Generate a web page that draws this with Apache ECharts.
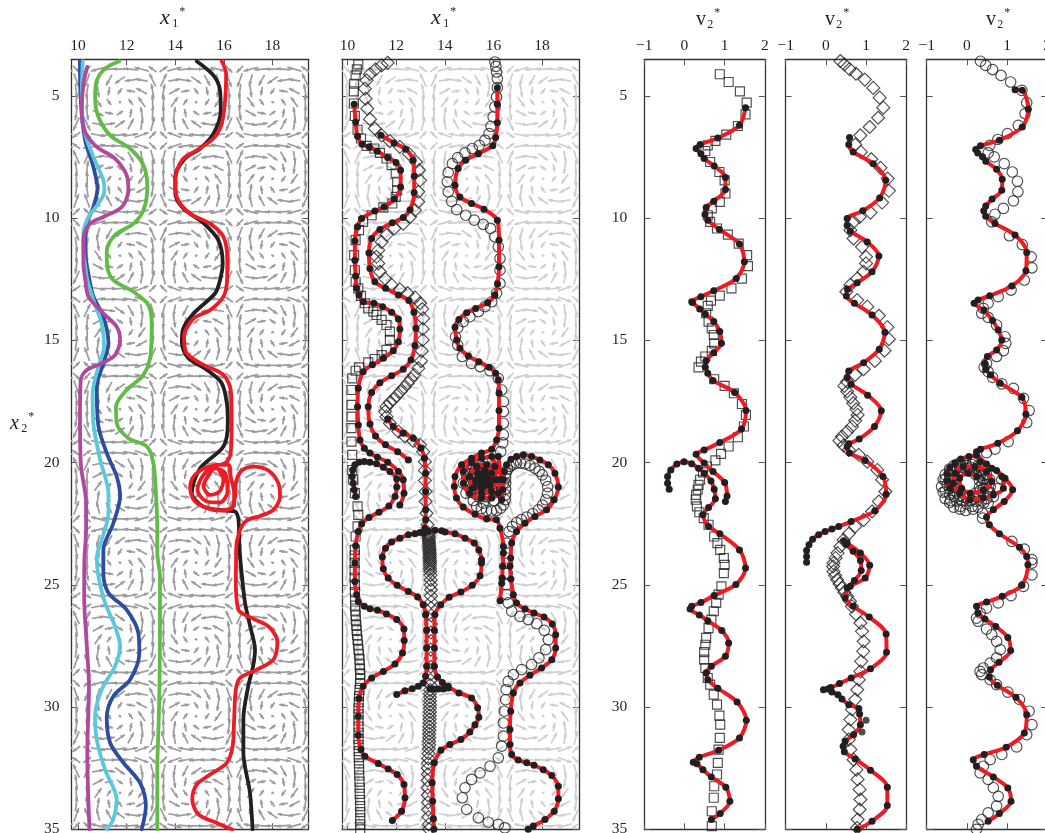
<!DOCTYPE html>
<html><head><meta charset="utf-8">
<style>html,body{margin:0;padding:0;background:#fff}#c{width:1045px;height:833px}</style>
<script src="https://cdn.jsdelivr.net/npm/echarts@6/dist/echarts.min.js"></script>
</head><body><div id="c"></div>
<script>
const yTicks=[5,10,15,20,25,30,35];
const x1Ticks=[10,12,14,16,18];
const v2Ticks=[-1,0,1,2];
// vector field: one flow cell (screen degrees, length in x-units)
const cellAngles=[
[225,195,185,180,175,165,145],
[250,255,241,215,188,170,115],
[262,278,260,235,170,152,100],
[270,305,305,330,125,125,92],
[278,332,350,35,80,98,88],
[295,350,8,35,62,80,75],
[325,350,0,5,10,20,45]];
const cellLengths=[
[.4,.6,.6,.6,.6,.6,.4],
[.6,.5,.5,.5,.5,.5,.6],
[.6,.5,.35,.3,.35,.5,.6],
[.6,.5,.3,.12,.3,.5,.6],
[.6,.5,.35,.3,.35,.5,.6],
[.6,.5,.5,.5,.5,.5,.6],
[.4,.6,.6,.6,.6,.6,.4]];
const cellEdgesX=[7.01,10.15,13.29,16.43,19.57];
const cellEdgesY=[3.68,6.82,9.96,13.1,16.24,19.38,22.52,25.66,28.8,31.94];
// panel 1
const p1Black=[[14.88,3.58],[15.57,4.16],[15.84,4.77],[15.87,5.59],[15.57,6.54],[15.02,7.15],[14.4,7.56],[14,8.31],[14,8.99],[14.33,9.6],[15.16,10.2],[15.77,10.9],[15.95,11.85],[15.84,12.53],[15.64,13.07],[14.75,13.9],[14.31,14.57],[14.27,15.12],[14.54,15.73],[15.29,16.2],[15.91,16.75],[16.12,17.57],[16.16,18.39],[15.98,19.34],[15.02,20.23],[14.68,21.25],[15.16,21.8],[16.12,21.96],[16.46,22],[16.6,22.34],[16.63,23.2],[16.67,23.9],[16.73,24.52],[16.87,25.74],[17.08,26.7],[17.28,27.65],[17.2,28.33],[17,29.15],[16.8,30.5],[16.8,31.87],[17.07,33.5],[17.18,35]];
const p1RedA=[[15.91,3.58],[16.09,4.09],[16.05,5.18],[15.91,6.13],[15.57,6.74],[14.88,7.22],[14.27,7.63],[14,8.45],[14.06,9.13],[14.6,9.81],[15.43,10.22],[15.98,10.76],[16.14,11.72],[16.13,12.53],[15.98,13.21],[15.43,13.76],[14.75,14.1],[14.36,14.85],[14.47,15.53],[15.16,16],[15.98,16.41],[16.28,17.03],[16.32,18.25],[16.28,19.61],[16.05,20.02],[15.29,20.19],[14.75,20.57],[14.61,21.05],[14.81,21.59],[15.43,21.9],[16.05,21.96],[16.42,21.73],[16.42,21.25],[16.28,20.57],[16.19,20.09],[15.71,20.09],[15.16,20.5],[14.91,21.11],[15.29,21.59],[15.84,21.63],[16.15,21.18],[16.05,20.43],[15.64,20.23],[15.29,20.64],[15.16,20.98],[15.43,21.32],[15.82,21.18],[15.98,20.7],[15.82,20.36]];
const p1RedB=[[15.98,21.93],[16.32,21.86],[16.46,21.39],[16.49,20.84],[16.74,20.32],[17.22,20.16],[17.83,20.32],[18.24,20.84],[18.31,21.39],[18.04,21.93],[17.49,22.18],[16.94,22.37],[16.64,22.82],[16.5,23.57],[16.5,23.97],[16.49,24.79],[16.6,26.02],[17.15,26.36],[17.83,26.7],[18.2,27.31],[18.04,28.06],[17.35,28.47],[16.67,28.81],[16.49,29.29],[16.42,30.51],[16.36,31.6],[16.12,32.28],[15.43,32.76],[14.88,33.17],[14.7,33.78],[14.95,34.39],[15.71,34.74],[16.35,35.01]];
const p1Green=[[11.7,3.58],[11.11,3.88],[10.77,4.36],[10.7,5.04],[10.84,5.86],[11.32,6.61],[12.14,7.15],[12.69,7.83],[12.85,8.72],[12.69,9.67],[12.28,10.22],[11.52,10.69],[11.18,11.31],[11.2,11.99],[11.45,12.53],[12.28,13.01],[12.89,13.55],[13.03,14.3],[12.99,15.53],[12.69,16.41],[12,17.03],[11.56,17.71],[11.59,18.39],[12.07,19],[12.83,19.34],[13.1,20.02],[13.21,21.39],[13.26,22.75],[13.26,23.7],[13.37,24.65],[13.37,26.42],[13.35,29.15],[13.31,30.78],[13.26,32.56],[13.26,35]];
const p1Purple=[[10.38,3.81],[10.22,4.5],[10.15,5.59],[10.29,6.47],[10.77,7.08],[11.52,7.56],[12,8.24],[12.07,8.86],[11.8,9.54],[11.04,9.95],[10.49,10.22],[10.22,10.83],[10.22,11.85],[10.3,12.53],[10.43,13.21],[11.04,13.89],[11.59,14.44],[11.73,14.98],[11.52,15.6],[10.97,15.94],[10.36,16.21],[10.11,16.62],[10.08,17.98],[10.11,20.02],[10.33,21.66],[10.33,22.75],[10.26,23.97],[10.25,25.47],[10.36,27.51],[10.45,29.15],[10.38,31.87],[10.47,35]];
const p1Blue=[[10.08,3.58],[10.11,5.18],[10.29,6.81],[10.63,7.9],[10.8,8.79],[10.63,9.54],[10.36,10.22],[10.29,11.31],[10.47,12.53],[10.63,13.21],[11.04,14.03],[11.25,15.12],[11.04,15.94],[10.77,16.89],[10.84,18.52],[11.18,19.61],[11.59,20.57],[11.73,21.39],[11.45,22.48],[11.04,23.57],[11.04,24.52],[11.25,25.33],[12,26.02],[12.48,26.97],[12.52,27.79],[12.14,28.88],[11.45,29.56],[11.18,30.44],[11.32,31.47],[11.87,32.28],[12.55,33.1],[12.79,34.05],[12.62,35]];
const p1Cyan=[[10.19,3.58],[10.15,5.18],[10.29,6.54],[10.63,7.49],[11.04,8.45],[11.08,8.92],[10.84,9.4],[10.43,9.95],[10.22,10.63],[10.22,11.31],[10.3,12],[10.38,12.53],[10.63,13.35],[10.97,14.3],[11.07,15.25],[10.84,16.07],[10.6,17.16],[10.63,18.39],[10.91,19.89],[11.25,21.25],[11.25,22.07],[10.97,23.16],[10.77,23.9],[10.84,24.65],[11.11,25.74],[11.52,26.7],[11.73,27.51],[11.52,28.33],[10.97,29.29],[10.7,30.38],[10.77,31.33],[11.11,32.56],[11.59,33.78],[11.45,34.6],[11.18,35]];
// panel 2, red lines with dots
const p2A=[[10.27,5.34],[10.33,6.06],[10.41,6.65],[10.6,6.98],[10.89,7.08],[11.22,7.26],[11.65,7.52],[11.99,7.72],[12.18,8.04],[12.18,8.72],[11.92,9.22],[11.5,9.54],[11.12,9.71],[10.58,10.01],[10.41,10.35],[10.3,10.93],[10.3,11.72],[10.33,12.37],[10.37,12.87],[10.47,13.14],[10.64,13.42],[11.08,13.48],[11.44,13.62],[11.81,13.85],[12.09,14.12],[12.15,14.53],[12.09,15.05],[11.88,15.42],[11.47,15.73],[11.02,16],[10.64,16.28],[10.44,16.96],[10.41,17.71],[10.44,18.46],[10.51,19.07],[10.69,19.41],[10.92,19.61],[11.23,19.78],[11.65,19.98],[12.09,20.36],[12.29,20.7],[12.32,21.25],[12.15,21.73]];
const p2A2=[[10.33,21.39],[10.27,21.11],[10.23,20.84],[10.19,20.57],[10.21,20.3],[10.3,20.09],[10.47,19.98],[10.69,19.95],[10.92,19.98],[11.19,20.05],[11.47,20.19],[11.74,20.36],[12.02,20.66],[12.02,21],[11.95,21.39],[11.7,21.77],[11.29,22.03],[10.88,22.24],[10.58,22.5],[10.44,22.82],[10.33,23.4],[10.3,24.11],[10.3,24.86],[10.37,25.4],[10.44,25.68],[10.69,25.88],[10.92,25.98],[11.23,26.04],[11.6,26.19],[12.02,26.42],[12.32,26.81],[12.33,27.28],[12.26,27.79],[11.95,28.24],[11.47,28.54],[10.99,28.81],[10.64,29.15],[10.47,29.65],[10.44,30.38],[10.44,31.15],[10.55,31.74],[10.71,32.01],[11.26,32.31],[11.67,32.53],[12.04,32.76],[12.32,33.17],[12.36,33.71],[12.22,34.26],[11.84,34.64]];
const p2B=[[11.37,6.61],[11.91,6.92],[12.39,7.18],[12.7,7.63],[12.74,8.28],[12.74,8.96],[12.57,9.65],[12.29,9.97],[11.84,10.19],[11.33,10.46],[10.99,10.83],[10.88,11.42],[10.92,12.06],[11.12,12.6],[11.56,12.87],[12.09,13.14],[12.52,13.37],[12.73,13.85],[12.81,14.5],[12.77,15.21],[12.61,15.8],[12.29,16.18],[11.81,16.45],[11.33,16.73],[10.99,17.13],[10.85,17.71],[10.92,18.42],[11.15,18.91],[11.56,19.27],[12.06,19.55],[12.5,19.89]];
const p2C=[[11.65,18.22],[11.88,18.52],[12.29,18.8],[12.7,19],[13.02,19.41],[13.16,19.82],[13.21,20.43],[13.21,21.18],[13.21,21.93],[13.21,22.34],[13.18,22.68],[13.15,22.88],[12.98,22.86],[12.77,22.91],[12.5,22.95],[12.15,23.09],[11.81,23.25],[11.56,23.5],[11.43,23.86],[11.47,24.34],[11.67,24.72],[12.04,25.02],[12.5,25.27],[12.88,25.5],[13.11,25.81],[13.21,26.22],[13.25,26.86],[13.25,27.58],[13.25,28.33],[13.21,28.74],[13.11,29.01],[12.91,29.15],[12.66,29.25],[12.36,29.33],[12.02,29.49]];
const p2D=[[13.32,22.82],[13.59,22.77],[13.87,22.79],[14.01,22.84],[14.42,22.91],[14.83,23.09],[15.21,23.29],[15.4,23.57],[15.51,23.97],[15.51,24.11],[15.45,24.63],[15.13,25.02],[14.66,25.29],[14.18,25.51],[13.83,25.81],[13.59,26.22],[13.57,26.86],[13.57,27.58],[13.57,28.33],[13.7,28.77],[13.9,28.99],[14.14,29.15]];
const p2E=[[13.39,29.26],[13.53,29.26],[13.73,29.26],[13.94,29.26],[14.14,29.22],[14.58,29.42],[15.1,29.63],[15.35,30.03],[15.4,30.42],[15.24,30.72],[15.03,31.02],[14.66,31.33],[14.21,31.53],[13.84,31.77],[13.57,32.28],[13.48,33.1],[13.5,33.85],[13.53,34.57],[13.55,35]];
const p2R=[[16.16,4.66],[16.16,5.34],[16.16,6.1],[16.09,6.7],[15.97,7.04],[15.38,7.36],[14.86,7.63],[14.55,7.97],[14.42,8.65],[14.62,9.13],[15.1,9.4],[15.61,9.63],[16.16,10.08],[16.23,10.9],[16.23,11.99],[16.17,12.69],[16.06,13.14],[15.76,13.46],[15.27,13.69],[14.9,13.87],[14.58,14.14],[14.42,14.46],[14.49,14.98],[14.62,15.32],[14.97,15.64],[15.4,15.87],[15.82,16.1],[16.09,16.34],[16.2,16.62],[16.23,17.16],[16.23,17.87],[16.23,18.59],[16.13,19.07],[15.93,19.45],[15.51,19.61],[15.1,19.82],[14.69,20.09],[14.42,20.57],[14.39,20.98],[14.48,21.45],[14.76,21.82],[15.24,22.11],[15.72,22.31],[16.12,22.34],[16.27,22.68],[16.41,23.43],[16.41,23.7],[16.38,24.24],[16.36,24.72],[16.34,24.93],[16.27,25.65]];
const p2Spiral=[[16.2,19.75],[16.3,20.7],[16.2,21.25],[15.93,21.45],[15.51,21.45],[15.03,21.25],[14.76,20.84],[14.76,20.36],[15.1,20],[15.51,19.82],[15.93,19.75],[16.06,20.16],[16.09,20.7],[15.93,21.18],[15.51,21.25],[15.17,21.04],[15.03,20.57],[15.31,20.16],[15.72,20.09],[15.93,20.43],[15.86,20.91],[15.51,21.04],[15.27,20.77],[15.38,20.43],[15.65,20.36],[15.72,20.7],[15.51,20.87],[15.45,20.68],[15.56,20.57]];
const p2Inner=[[15.88,20.72],[15.8,20.93],[15.58,21.02],[15.36,20.93],[15.28,20.72],[15.36,20.51],[15.58,20.42],[15.8,20.51],[15.7,20.72],[15.58,20.82],[15.46,20.72],[15.58,20.6]];
const p2S=[[16.34,21.52],[16.38,21.11],[16.41,20.7],[16.45,20.36],[16.54,20.09],[16.72,19.86],[16.95,19.75],[17.23,19.68],[17.57,19.75],[17.91,19.89],[18.26,20.09],[18.53,20.43],[18.67,21],[18.5,21.52],[18.19,21.93],[17.71,22.2],[17.3,22.48],[16.95,22.82],[16.75,23.29],[16.71,23.9],[16.68,24.24],[16.72,24.76],[16.82,25.4],[16.95,25.74],[17.3,25.99],[17.67,26.15],[18.08,26.32],[18.42,26.6],[18.56,27.04],[18.56,27.58],[18.4,28.06],[17.98,28.4],[17.5,28.7],[17.09,29.01],[16.82,29.42],[16.71,30.17],[16.68,30.92],[16.68,31.53],[16.75,31.94],[17.02,32.17],[17.37,32.28],[17.67,32.38],[18.05,32.56],[18.4,32.8],[18.67,33.24],[18.67,33.75],[18.5,34.26],[18.12,34.6],[17.64,34.87],[17.43,35]];
// panel 2, open markers
const p2Squares=[[10.44,3.71],[10.38,3.91],[10.33,4.16],[10.27,4.5],[10.26,4.81],[10.26,5.31],[10.3,5.82],[10.41,6.38],[10.55,6.74],[10.78,7.04],[11.1,7.15],[11.33,7.33],[11.6,7.56],[11.81,7.83],[11.98,8.17],[12.04,8.51],[12.04,8.86],[11.98,9.13],[11.84,9.4],[11.47,9.56],[10.99,9.88],[10.64,10.15],[10.47,10.49],[10.33,10.9],[10.27,11.51],[10.3,12.13],[10.33,12.6],[10.44,12.87],[10.55,13.18],[10.71,13.48],[10.85,13.69],[11.06,13.82],[11.19,13.96],[11.4,14.16],[11.6,14.37],[11.74,14.64],[11.74,14.98],[11.6,15.39],[11.4,15.6],[11.12,15.76],[10.85,15.9],[10.47,16.1],[10.33,16.24],[10.19,16.55],[10.16,17.03],[10.16,17.64],[10.16,18.12],[10.16,18.59],[10.16,19.14],[10.19,19.68],[10.19,20.3],[10.23,20.7],[10.3,21.25],[10.41,21.79],[10.44,22.14],[10.41,22.61],[10.33,23.02],[10.3,23.57],[10.29,23.8],[10.29,24.1],[10.29,24.4],[10.29,24.7],[10.3,25],[10.3,25.3],[10.31,25.6],[10.31,25.85],[10.32,26.05],[10.33,26.25],[10.34,26.45],[10.36,26.65],[10.37,26.85],[10.39,27.05],[10.41,27.25],[10.43,27.45],[10.45,27.65],[10.47,27.85],[10.49,28.05],[10.5,28.25],[10.51,28.45],[10.52,28.65],[10.52,28.85],[10.51,29.05],[10.49,29.3],[10.47,29.55],[10.46,29.8],[10.45,30.05],[10.45,30.3],[10.45,30.55],[10.45,30.8],[10.45,31.05],[10.45,31.3],[10.45,31.55],[10.46,31.8],[10.46,32.05],[10.47,32.3],[10.47,32.55],[10.48,32.8],[10.49,33.05],[10.5,33.3],[10.5,33.55],[10.51,33.8],[10.52,34.05],[10.52,34.3],[10.52,34.55],[10.52,34.8],[10.52,35]];
const p2Diamonds=[[11.65,3.64],[11.4,3.75],[11.15,3.91],[10.92,4.11],[10.78,4.36],[10.71,4.7],[10.74,5.11],[10.81,5.52],[10.92,5.95],[11.12,6.33],[11.4,6.61],[11.74,6.85],[12.15,7.08],[12.52,7.36],[12.81,7.7],[12.94,8.04],[12.98,8.45],[12.91,8.92],[12.91,9.33],[12.77,9.67],[12.57,9.95],[12.29,10.22],[11.92,10.42],[11.6,10.69],[11.4,10.97],[11.26,11.31],[11.19,11.58],[11.26,11.85],[11.33,12.19],[11.54,12.47],[11.81,12.73],[12.15,12.91],[12.47,13.07],[12.77,13.24],[12.98,13.48],[13.07,13.72],[13.11,14.1],[13.09,14.53],[13.09,14.98],[13.05,15.43],[13.02,15.84],[12.91,16.14],[12.74,16.41],[12.61,16.58],[12.47,16.75],[12.33,16.92],[12.18,17.09],[12.02,17.26],[11.88,17.41],[11.74,17.54],[11.6,17.71],[11.54,17.91],[11.6,18.12],[11.74,18.39],[12.09,18.73],[12.36,18.93],[12.7,19.11],[12.98,19.27],[13.11,19.55],[13.18,19.96],[13.18,20.32],[13.18,20.73],[13.21,21.18],[13.21,21.59],[13.25,22.07],[13.29,22.54],[13.32,22.88],[13.33,22.95],[13.33,23.02],[13.34,23.1],[13.34,23.18],[13.35,23.25],[13.35,23.32],[13.36,23.4],[13.36,23.47],[13.37,23.55],[13.37,23.62],[13.38,23.7],[13.38,23.77],[13.38,23.85],[13.38,23.92],[13.39,24],[13.39,24.08],[13.39,24.16],[13.39,24.25],[13.39,24.35],[13.4,24.45],[13.41,24.6],[13.42,24.8],[13.42,25],[13.43,25.2],[13.43,25.45],[13.44,25.7],[13.44,25.95],[13.44,26.25],[13.43,26.6],[13.43,26.95],[13.43,27.3],[13.42,27.65],[13.42,28],[13.42,28.35],[13.42,28.65],[13.41,28.9],[13.4,29.1],[13.39,29.3],[13.39,29.45],[13.39,29.6],[13.39,29.75],[13.39,29.9],[13.39,30.05],[13.39,30.2],[13.38,30.35],[13.38,30.5],[13.38,30.65],[13.37,30.8],[13.37,30.95],[13.36,31.1],[13.36,31.25],[13.35,31.4],[13.35,31.55],[13.34,31.7],[13.33,31.9],[13.32,32.1],[13.31,32.3],[13.3,32.5],[13.3,32.75],[13.29,33],[13.29,33.3],[13.3,33.6],[13.31,33.9],[13.32,34.2],[13.33,34.5],[13.34,34.8],[13.35,35]];
const p2Circles=[[16.06,3.61],[16.1,3.79],[16.13,4.02],[16.16,4.29],[16.16,4.66],[16.13,5.04],[16.06,5.45],[15.99,5.86],[15.9,6.24],[15.82,6.54],[15.65,6.81],[15.42,7.02],[15.13,7.15],[14.83,7.33],[14.53,7.52],[14.31,7.77],[14.14,8.13],[14.1,8.51],[14.14,8.92],[14.28,9.31],[14.49,9.65],[14.86,9.88],[15.21,10.08],[15.58,10.25],[15.88,10.42],[16.06,10.76],[16.2,11.17],[16.27,11.65],[16.27,12.13],[16.27,12.67],[16.13,13.07],[15.93,13.42],[15.65,13.62],[15.38,13.82],[15.03,14.03],[14.76,14.23],[14.53,14.48],[14.44,14.85],[14.53,15.19],[14.72,15.66],[15.1,15.94],[15.45,16.07],[15.86,16.24],[16.2,16.55],[16.34,17.03],[16.41,17.5],[16.41,17.91],[16.41,18.39],[16.41,18.86],[16.38,19.19],[16.3,19.55],
[16.41,20.84],[16.3,21.25],[16.02,21.55],[15.58,21.66],[15.17,21.55],[14.87,21.25],[14.76,20.84],[14.87,20.43],[15.17,20.13],[15.58,20.02],[15.99,20.13],[16.3,20.43],
[16.26,20.9],[16.08,21.22],[15.76,21.4],[15.4,21.4],[15.08,21.22],[14.9,20.9],[14.9,20.54],[15.08,20.22],[15.4,20.04],[15.76,20.04],[16.08,20.22],[16.26,20.54],
[16.17,20.77],[16.09,21.09],[15.88,21.3],[15.58,21.39],[15.28,21.3],[15.05,21.09],[14.97,20.77],[15.05,20.46],[15.28,20.24],[15.58,20.16],[15.88,20.24],[16.09,20.46],
[16.06,20.85],[15.93,21.07],[15.71,21.2],[15.45,21.2],[15.23,21.07],[15.1,20.85],[15.1,20.59],[15.23,20.37],[15.45,20.24],[15.71,20.24],[15.93,20.37],[16.06,20.59],
[15.99,20.7],[15.93,20.91],[15.78,21.06],[15.58,21.11],[15.38,21.06],[15.23,20.91],[15.17,20.7],[15.23,20.5],[15.38,20.35],[15.58,20.3],[15.78,20.35],[15.93,20.5],
[15.31,21.79],[15.5,21.88],[15.72,21.96],[15.92,21.98],[16.13,21.96],[16.3,21.86],[16.41,21.73],[16.48,21.52],[16.5,21.32],[16.5,21.08],[16.5,20.84],[16.5,20.62],[16.52,20.43],[16.58,20.28],[16.68,20.16],[16.82,20.07],[16.95,20.02],[17.12,20.02],[17.3,20.05],[17.5,20.12],[17.71,20.23],[17.88,20.35],[18.01,20.5],[18.15,20.72],[18.23,20.98],[18.23,21.25],[18.15,21.52],[18.02,21.74],[17.85,21.93],[17.62,22.09],[17.37,22.23],[17.15,22.33],[16.95,22.45],[16.78,22.62],[16.64,22.82],[16.54,23.29],[16.54,23.9],[16.57,24.11],[16.57,24.52],[16.54,24.99],[16.54,25.4],[16.61,25.74],[16.75,26.08],[17.09,26.29],[17.43,26.42],[17.78,26.59],[18.09,26.86],[18.26,27.24],[18.15,27.65],[17.87,27.99],[17.57,28.26],[17.16,28.47],[16.82,28.67],[16.61,28.95],[16.52,29.29],[16.5,29.7],[16.45,30.17],[16.41,30.65],[16.41,31.19],[16.34,31.6],[16.2,32.08],[15.86,32.42],[15.45,32.69],[15.1,32.96],[14.83,33.3],[14.72,33.71],[14.9,34.19],[15.38,34.53],[15.79,34.71],[16.2,34.8],[16.47,34.94]];
// panel 3
const p3Main=[[1.52,5.48],[1.37,6.2],[.83,6.72],[.39,6.99],[.29,7.15],[.41,7.36],[.49,7.56],[.74,7.86],[1.02,8.34],[1.02,8.83],[.73,9.31],[.54,9.56],[.51,9.85],[.58,10.08],[.87,10.46],[1.37,11.06],[1.49,11.78],[1.29,12.47],[.73,12.97],[.41,13.21],[.18,13.42],[.2,13.45],[.38,13.71],[.52,13.93],[.73,14.23],[.88,14.64],[.92,15.12],[.73,15.5],[.54,15.83],[.52,16.1],[.58,16.34],[.71,16.64],[1.25,17.13],[1.53,17.87],[1.42,18.62],[.88,19.18],[.49,19.48],[.29,19.66],[.49,20.02],[.71,20.36],[1,20.81],[1.06,21.36],[1.02,21.59]];
const p3Hook=[[-.38,21.09],[-.42,20.84],[-.42,20.57],[-.34,20.3],[-.19,20.06],[-.01,19.96],[.18,20.05],[.35,20.23],[.49,20.43],[.66,20.75],[.74,21.09],[.77,21.48],[.6,21.84],[.46,22.13],[.6,22.61],[.88,22.91],[1.37,23.57],[1.52,24.31],[1.28,24.99],[.74,25.44],[.41,25.72],[.18,25.88],[.14,25.99],[.37,26.23],[.58,26.47],[.93,26.87],[1.1,27.38],[1.02,27.92],[.67,28.33],[.54,28.6],[.58,28.88],[.83,29.23],[1.31,29.79],[1.54,30.54],[1.37,31.26],[.85,31.77],[.37,32.05],[.22,32.26],[.31,32.32],[.46,32.56],[.67,32.86],[1.03,33.28],[1.13,33.85],[.89,34.35],[.67,34.6]];
const p3Squares=[[.88,4.11],[1.1,4.43],[1.38,4.81],[1.55,5.27],[1.52,5.75],[1.33,6.23],[1.04,6.58],[.77,6.84],[.58,7.02],[.52,7.25],[.64,7.7],[.87,8.11],[1,8.45],[1.02,8.99],[.88,9.33],[.68,9.6],[.58,9.88],[.64,10.15],[.81,10.42],[1.08,10.67],[1.35,11.04],[1.56,11.51],[1.58,11.96],[1.43,12.47],[1.17,12.87],[.88,13.17],[.66,13.37],[.58,13.59],[.54,13.89],[.6,14.23],[.68,14.51],[.73,14.78],[.74,15.12],[.68,15.43],[.52,15.66],[.41,15.87],[.35,16.1],[.74,16.59],[1,16.86],[1.23,17.16],[1.43,17.6],[1.53,18.05],[1.48,18.52],[1.33,18.96],[1.1,19.34],[.91,19.64],[.77,19.91],[.56,20.16],[.46,20.4],[.39,20.7],[.35,20.91],[.33,21.11],[.29,21.32],[.28,21.52],[.31,21.79],[.37,22.03],[.48,22.27],[.6,22.54],[.74,23.02],[.82,23.29],[.89,23.57],[.98,23.9],[1,24.18],[.98,24.52],[.92,25.06],[.85,25.4],[.79,25.74],[.73,26.08],[.67,26.42],[.6,26.77],[.54,27.17],[.52,27.45],[.49,27.75],[.49,28.06],[.52,28.4],[.58,28.81],[.64,29.08],[.73,29.49],[.81,29.9],[.87,30.35],[.89,30.72],[.88,31.26],[.85,31.74],[.83,32.28],[.81,32.76],[.74,33.24],[.73,33.71],[.68,34.26],[.68,34.87]];
// panel 4
const p4Main=[[.59,6.7],[.57,6.99],[.68,7.29],[1.18,7.77],[1.49,8.45],[1.34,9.17],[.92,9.7],[.53,10.01],[.53,10.29],[.61,10.53],[1.03,10.97],[1.32,11.55],[1.15,12.19],[.78,12.64],[.54,12.91],[.51,13.18],[.71,13.48],[1.15,13.96],[1.47,14.67],[1.33,15.36],[.94,15.91],[.57,16.25],[.53,16.52],[.63,16.79],[1.04,17.24],[1.38,17.88],[1.21,18.52],[.83,19.03],[.57,19.23],[.53,19.34],[.59,19.61],[.98,19.91],[1.42,20.57],[1.5,21.29],[1.22,21.97],[.63,22.41],[.32,22.61],[.15,22.72],[-.02,22.82],[-.18,22.95],[-.33,23.13],[-.42,23.36],[-.48,23.59],[-.48,23.84],[-.48,24.08]];
const p4Low1=[[.44,23.2],[.53,23.29],[.86,23.7],[1.09,24.2],[.98,24.72],[.61,25.06],[.48,25.54],[.68,25.88],[1.08,26.32],[1.5,27.01],[1.51,27.76],[1.11,28.43],[.63,28.81],[.34,29.04],[.12,29.2],[-.06,29.29],[.05,29.26],[.15,29.38],[.3,29.5],[.4,29.67],[.57,29.9],[.82,30.06],[.84,30.28],[.86,30.72],[.69,31.13],[.48,31.4],[.43,31.6],[.46,31.83],[.73,32.12],[1.11,32.58],[1.53,33.28],[1.53,34.03],[1.15,34.67],[.78,35]];
const p4Low2=[[.5,23.35],[.68,23.63],[.86,24],[.88,24.41],[.71,24.82],[.53,25.13]];
const p4Extra=[[1,30.54],[.9,31.02]];
const p4Diamonds=[[.36,3.57],[.46,3.71],[.59,3.9],[.75,4.09],[.97,4.33],[1.18,4.67],[1.34,5.07],[1.43,5.48],[1.3,5.89],[1.09,6.27],[.86,6.61],[.73,6.99],[.87,7.29],[1.13,7.59],[1.36,7.94],[1.54,8.38],[1.57,8.88],[1.4,9.36],[1.11,9.77],[.84,9.95],[.69,10.15],[.61,10.49],[.69,10.83],[.9,11.17],[1,11.58],[1,11.85],[.94,12.19],[.78,12.47],[.61,12.73],[.51,13.01],[.78,13.35],[1.03,13.62],[1.32,13.99],[1.53,14.46],[1.57,14.95],[1.46,15.42],[1.22,15.84],[.94,16.18],[.73,16.41],[.53,16.69],[.46,16.86],[.53,17.09],[.61,17.33],[.68,17.57],[.76,17.82],[.79,18.05],[.73,18.28],[.65,18.52],[.53,18.73],[.4,18.93],[.34,19.1],[.44,19.3],[.57,19.48],[.82,19.68],[1.03,19.96],[1.28,20.3],[1.4,20.7],[1.48,21.18],[1.32,21.59],[1.15,22],[.94,22.34],[.73,22.61],[.57,22.91],[.44,23.16],[.36,23.43],[.29,23.7],[.24,23.9],[.19,24.11],[.18,24.25],[.19,24.45],[.23,24.62],[.28,24.79],[.34,24.96],[.4,25.13],[.46,25.3],[.53,25.47],[.6,25.67],[.65,25.88],[.75,26.2],[.86,26.56],[.9,26.9],[.94,27.31],[.93,27.72],[.88,28.13],[.86,28.54],[.82,28.88],[.78,29.29],[.73,29.69],[.65,30.1],[.61,30.51],[.57,30.92],[.57,31.33],[.61,31.74],[.69,32.15],[.76,32.56],[.79,32.96],[.84,33.37],[.86,33.78],[.84,34.19],[.79,34.6],[.78,34.94]];
// panel 5
const p5Upper=[[1.2,4.75],[1.38,4.77],[1.53,5.54],[1.38,6.27],[.81,6.81],[.34,7.04],[.22,7.19],[.27,7.33],[.39,7.49],[.47,7.67],[.74,8],[.88,8.41],[.87,8.86],[.63,9.22],[.47,9.5],[.42,9.7],[.47,9.92],[.7,10.22],[1.2,10.69],[1.49,11.4],[1.47,12.15],[1.12,12.77],[.57,13.17],[.28,13.35],[.18,13.48],[.42,13.76],[.64,14.19],[.78,14.57],[.87,14.98],[.74,15.39],[.51,15.66],[.45,15.94],[.47,16.18],[.59,16.41],[.83,16.75],[1.37,17.33],[1.47,18.02],[1.26,18.7],[.77,19.21],[.34,19.45],[.24,19.55],[.49,20.06],[.74,20.32],[.95,20.64],[1.14,21.11],[.93,21.59],[.66,21.93],[.49,22.23],[.56,22.54],[.81,22.91],[1.31,23.46],[1.49,23.84],[1.52,24.18],[1.37,25.02],[.88,25.47],[.49,25.7],[.24,25.88],[.28,26.15],[.45,26.4],[.72,26.7],[1.02,27.15],[1.09,27.69],[.8,28.17],[.59,28.47],[.56,28.77],[.76,29.11],[1.22,29.6],[1.49,30.31],[1.43,31.06],[.98,31.64],[.43,31.94],[.16,32.15],[.24,32.42],[.66,32.86],[1.02,33.31],[1.1,33.85],[.81,34.35],[.53,34.67]];
const p5Spiral=[[.33,19.95],[.62,20.23],[.87,20.57],[.91,21.05],[.66,21.32],[.41,21.45],[.08,21.52],[-.18,21.25],[-.34,20.84],[-.3,20.43],[-.09,20.16],[.2,20.16],[.49,20.36],[.62,20.77],[.41,21.11],[.08,21.25],[-.13,21.05],[-.18,20.64],[.03,20.43],[.24,20.57]];
const p5Arc=[[.24,19.7],[.05,19.75],[-.15,19.85],[-.3,20],[-.42,20.2],[-.5,20.45],[-.5,20.75],[-.42,21.05]];
const p5Circles=[[.34,3.58],[.47,3.75],[.64,3.92],[.85,4.16],[1.09,4.43],[1.37,4.77],[1.49,5.27],[1.45,5.72],[1.28,6.2],[1.01,6.54],[.77,6.78],[.57,7.02],[.53,7.33],[.68,7.49],[.93,7.77],[1.13,8.11],[1.26,8.49],[1.27,8.92],[1.16,9.29],[.91,9.6],[.7,9.84],[.62,10.15],[1.06,10.72],[1.38,11.08],[1.6,11.58],[1.62,12.03],[1.43,12.53],[1.1,12.94],[.78,13.21],[.53,13.48],[.41,13.69],[.37,13.89],[.53,14.06],[.74,14.37],[.95,14.85],[.97,15.12],[.91,15.42],[.74,15.66],[.49,15.94],[.43,16.1],[.53,16.28],[.64,16.51],[.87,16.78],[1.16,16.96],[1.41,17.37],[1.55,17.87],[1.49,18.36],[1.03,19.14],[.7,19.45],[.49,19.59],
[.58,20.98],[.49,21.47],[.28,21.82],[-.03,21.96],[-.33,21.82],[-.54,21.47],[-.63,20.98],[-.54,20.49],[-.33,20.13],[-.03,20],[.28,20.13],[.49,20.49],
[.57,21.21],[.42,21.64],[.15,21.9],[-.17,21.9],[-.43,21.64],[-.59,21.21],[-.59,20.69],[-.43,20.26],[-.17,20],[.15,20],[.42,20.26],[.57,20.69],
[.48,20.91],[.41,21.3],[.23,21.59],[-.01,21.7],[-.25,21.59],[-.43,21.3],[-.49,20.91],[-.43,20.51],[-.25,20.23],[-.01,20.12],[.23,20.23],[.41,20.51],
[.41,21.05],[.3,21.37],[.1,21.55],[-.12,21.55],[-.32,21.37],[-.43,21.05],[-.43,20.69],[-.32,20.37],[-.12,20.19],[.1,20.19],[.3,20.37],[.41,20.69],
[.38,20.84],[.33,21.14],[.19,21.37],[.01,21.45],[-.18,21.37],[-.32,21.14],[-.37,20.84],[-.32,20.54],[-.18,20.31],[.01,20.23],[.19,20.31],[.33,20.54],
[.31,21.01],[.22,21.25],[.07,21.4],[-.09,21.4],[-.24,21.25],[-.33,21.01],[-.33,20.73],[-.24,20.49],[-.09,20.34],[.07,20.34],[.22,20.49],[.31,20.73],
[.51,21.17],[.37,21.56],[.13,21.79],[-.16,21.79],[-.4,21.56],[-.54,21.17],[-.54,20.7],[-.4,20.31],[-.16,20.08],[.13,20.08],[.37,20.31],[.51,20.7],
[.87,20.7],[.78,21.05],[.66,21.39],[.53,21.66],[.39,22.07],[.39,22.27],[1.12,23.22],[1.43,23.54],[1.62,23.97],[1.62,24.11],[1.62,24.59],[1.41,25.06],[1.1,25.44],[.78,25.74],[.49,25.95],[.33,26.15],[.24,26.36],[.28,26.49],[.49,26.81],[.62,27.04],[.74,27.31],[.83,27.65],[.74,27.99],[.58,28.2],[.41,28.4],[.33,28.54],[.37,28.67],[.58,28.88],[.74,29.08],[1.02,29.39],[1.31,29.69],[1.55,30.17],[1.62,30.72],[1.49,31.13],[1.24,31.63],[.87,31.94],[.58,32.15],[.41,32.42],[.33,32.69],[.53,32.96],[.66,33.3],[.78,33.65],[.74,34.05],[.53,34.33],[.37,34.6],[.28,34.8],[.24,35]];

const RED='#ed1c24',INK='#231f20';
const SERIF='"Liberation Serif","Times New Roman",serif';
const panels=[
 {left:71.5,width:237,min:9.73,max:19.48,ticks:x1Ticks,yLabels:true,margin:12},
 {left:342,width:237,min:9.77,max:19.52,ticks:x1Ticks,yLabels:false},
 {left:644.3,width:120.5,min:-1,max:2,ticks:v2Ticks,yLabels:true,margin:17},
 {left:785.7,width:120.5,min:-1,max:2,ticks:v2Ticks,yLabels:false},
 {left:926.7,width:120.5,min:-1,max:2,ticks:v2Ticks,yLabels:false}];
const TOP=59.3,H=770;
const grid=[],xAxis=[],yAxis=[];
const fmt=v=>String(v).replace('-','\u2212');
panels.forEach((p,i)=>{
 grid.push({left:p.left,top:TOP,width:p.width,height:H,show:false,containLabel:false,outerBoundsMode:'none'});
 const tick=(cv)=>({show:true,inside:true,length:6,customValues:cv,lineStyle:{color:'#555',width:1}});
 const line={show:true,onZero:false,lineStyle:{color:'#333',width:1.3}};
 xAxis.push({gridIndex:i,type:'value',position:'top',min:p.min,max:p.max,axisLine:line,axisTick:tick(p.ticks),splitLine:{show:false},
  axisLabel:{show:true,customValues:p.ticks,formatter:fmt,margin:5,color:INK,fontFamily:SERIF,fontSize:15.5}});
 xAxis.push({gridIndex:i,type:'value',position:'bottom',min:p.min,max:p.max,axisLine:line,axisTick:tick(p.ticks),splitLine:{show:false},axisLabel:{show:false}});
 yAxis.push({gridIndex:i,type:'value',position:'left',inverse:true,min:3.5,max:35,axisLine:line,axisTick:tick(yTicks),splitLine:{show:false},
  axisLabel:{show:p.yLabels,customValues:yTicks,margin:p.margin||12,color:INK,fontFamily:SERIF,fontSize:15.5}});
 yAxis.push({gridIndex:i,type:'value',position:'right',inverse:true,min:3.5,max:35,axisLine:line,axisTick:tick(yTicks),splitLine:{show:false},axisLabel:{show:false}});
});
const ax=g=>({xAxisIndex:g*2,yAxisIndex:g*2});
const series=[];
function fieldData(){
 const out=[];const s=Math.PI/7;
 cellEdgesX.forEach((ex,i)=>cellEdgesY.forEach((ey,j)=>{
  const fx=i%2===0, fy=j%2===1;
  for(let r=0;r<7;r++)for(let c=0;c<7;c++){
   const cc=fx?6-c:c, rr=fy?6-r:r;
   let a=cellAngles[r][c]; if(fx)a=180-a; if(fy)a=-a;
   out.push([ex+(cc+.5)*s,ey+(rr+.5)*s,a,cellLengths[r][c]]);
  }
 }));
 return out;
}
const PXU=24.3;
function arrow(color){return function(params,api){
 const c=api.coord([api.value(0),api.value(1)]);
 const a=api.value(2)*Math.PI/180,l=api.value(3)*PXU;
 const dx=Math.cos(a),dy=-Math.sin(a);
 const x0=c[0]-dx*l/2,y0=c[1]-dy*l/2,x1=c[0]+dx*l/2,y1=c[1]+dy*l/2;
 const h=Math.min(4.5,l*.55),w=1.9;
 return {type:'group',children:[
  {type:'line',shape:{x1:x0,y1:y0,x2:x1,y2:y1},style:{stroke:color,lineWidth:1.7}},
  {type:'polygon',shape:{points:[[x1,y1],[x1-dx*h-dy*w,y1-dy*h+dx*w],[x1-dx*h+dy*w,y1-dy*h-dx*w]]},style:{fill:color}}
 ]};
};}
const fd=fieldData();
series.push({type:'custom',...ax(0),data:fd,renderItem:arrow('#9c9c9e'),clip:true,silent:true,z:1,encode:{x:0,y:1}});
series.push({type:'custom',...ax(1),data:fd.map(d=>[d[0]+.04,d[1],d[2],d[3]]),renderItem:arrow('#cfcfd0'),clip:true,silent:true,z:1,encode:{x:0,y:1}});
const SMOOTH=.3;
function plain(g,data,color,z){series.push({type:'line',...ax(g),data,smooth:SMOOTH,showSymbol:false,symbol:'none',lineStyle:{color,width:3.8,cap:'round'},z:z||3,clip:true,silent:true});}
plain(0,p1Blue,'#2f4d9f',3);plain(0,p1Cyan,'#5cc8dc',4);plain(0,p1Purple,'#b0499e',5);plain(0,p1Green,'#62bb46',5);
plain(0,p1Black,INK,5);plain(0,p1RedA,RED,6);plain(0,p1RedB,RED,6);
function open(g,data,symbol,size){series.push({type:'scatter',...ax(g),data,symbol,symbolSize:size,itemStyle:{color:'rgba(0,0,0,0)',borderColor:INK,borderWidth:1.15},z:3,clip:true,silent:true});}
function dotted(g,data){series.push({type:'line',...ax(g),data,smooth:SMOOTH,showSymbol:true,showAllSymbol:true,symbol:'circle',symbolSize:7,itemStyle:{color:INK},lineStyle:{color:RED,width:4},z:5,clip:true,silent:true});}
open(1,p2Squares,'rect',9);open(1,p2Diamonds,'diamond',13);open(1,p2Circles,'circle',10.5);
[p2A,p2A2,p2B,p2C,p2D,p2E,p2R,p2Spiral,p2S].forEach(d=>dotted(1,d));
series.push({type:'scatter',...ax(1),data:p2Inner,symbol:'circle',symbolSize:7,itemStyle:{color:INK},z:6,silent:true});
open(2,p3Squares,'rect',9);dotted(2,p3Main);dotted(2,p3Hook);
open(3,p4Diamonds,'diamond',13);dotted(3,p4Main);dotted(3,p4Low1);dotted(3,p4Low2);
series.push({type:'scatter',...ax(3),data:p4Extra,symbol:'circle',symbolSize:7,itemStyle:{color:INK},z:6,silent:true});
open(4,p5Circles,'circle',10.5);dotted(4,p5Upper);dotted(4,p5Spiral);dotted(4,p5Arc);

// axis titles: letter, subscript, superscript
function title(letter,sub,x,y,italic,size){return [
 {type:'text',left:x,top:y-size*.83,z:20,style:{text:letter,font:(italic?'italic ':'')+size+'px '+SERIF,fill:INK}},
 {type:'text',left:x+size*.56,top:y-7,z:20,style:{text:sub,font:'12px '+SERIF,fill:INK}},
 {type:'text',left:x+size*.56+7,top:y-19,z:20,style:{text:'*',font:'12px '+SERIF,fill:INK}}];}
const graphic=[].concat(
 title('x','1',160,25,true,22),title('x','1',431,25,true,22),
 title('v','2',696,26,false,20),title('v','2',825,26,false,20),title('v','2',986,26,false,20),
 title('x','2',10,430,true,20));
const chart=echarts.init(document.getElementById('c'),null,{renderer:'canvas',width:1045,height:833});
chart.setOption({animation:false,backgroundColor:'#fff',grid,xAxis,yAxis,series,graphic,tooltip:{show:false},legend:{show:false}});
</script></body></html>
